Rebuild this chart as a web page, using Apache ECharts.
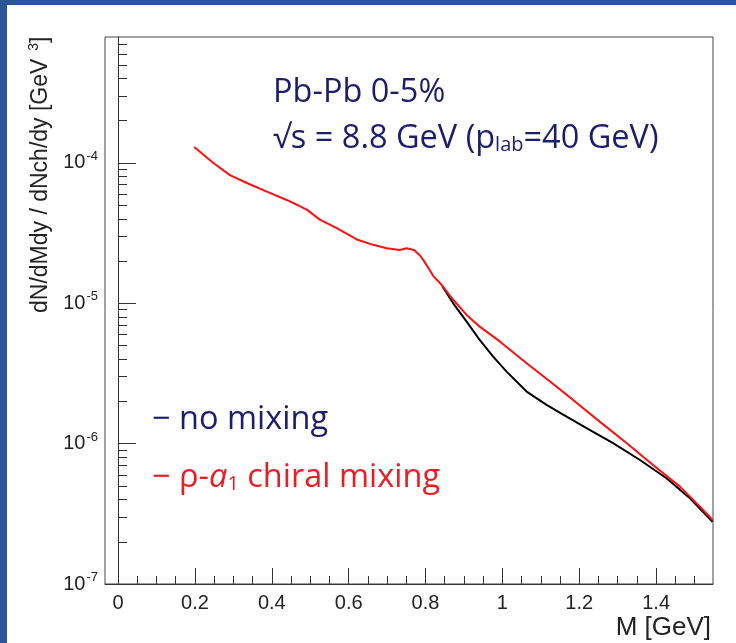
<!DOCTYPE html>
<html>
<head>
<meta charset="utf-8">
<script src="https://cdn.jsdelivr.net/npm/echarts@6/dist/echarts.min.js"></script>
<style>
  html, body { margin: 0; padding: 0; background: #ffffff; }
  #chart { width: 736px; height: 643px; }
</style>
</head>
<body>
<div id="chart"></div>
<script>
// Invariant mass M [GeV] and yield dN/dMdy / dNch/dy for the rho-a1 chiral mixing case
const massMixing = [0.198, 0.248, 0.291, 0.335, 0.387, 0.439, 0.491, 0.525, 0.569, 0.621,
  0.664, 0.699, 0.733, 0.751, 0.770, 0.785, 0.794, 0.820, 0.842, 0.872, 0.907, 0.941,
  0.994, 1.063, 1.124, 1.184, 1.254, 1.323, 1.392, 1.462, 1.514, 1.547];
const yieldMixing = [1.30e-4, 1.00e-4, 8.2e-5, 7.2e-5, 6.25e-5, 5.45e-5, 4.65e-5, 3.95e-5, 3.43e-5, 2.85e-5,
  2.61e-5, 2.47e-5, 2.40e-5, 2.47e-5, 2.40e-5, 2.2e-5, 2.04e-5, 1.57e-5, 1.35e-5, 1.06e-5, 8.27e-6, 6.82e-6,
  5.33e-6, 3.74e-6, 2.77e-6, 2.05e-6, 1.43e-6, 1.01e-6, 7.05e-7, 4.94e-7, 3.56e-7, 2.86e-7];

// Same observable without mixing (only differs above the rho/omega region)
const massNoMixing = [0.844, 0.872, 0.907, 0.941, 0.976, 1.011, 1.063, 1.115, 1.167, 1.219,
  1.288, 1.358, 1.427, 1.488, 1.547];
const yieldNoMixing = [1.32e-5, 1.00e-5, 7.41e-6, 5.48e-6, 4.17e-6, 3.26e-6, 2.35e-6, 1.89e-6, 1.56e-6, 1.29e-6,
  1.01e-6, 7.65e-7, 5.67e-7, 4.08e-7, 2.78e-7];

// Axis ranges and tick positions
const xRange = [-0.034, 1.548];
const yRange = [1e-7, 7.9e-4];
const xMajorTicks = [0, 0.2, 0.4, 0.6, 0.8, 1.0, 1.2, 1.4];
const xMinorTicks = [0.05, 0.1, 0.15, 0.25, 0.3, 0.35, 0.45, 0.5, 0.55, 0.65, 0.7, 0.75,
  0.85, 0.9, 0.95, 1.05, 1.1, 1.15, 1.25, 1.3, 1.35, 1.45, 1.5];
const yDecades = [-7, -6, -5, -4];
const yMajorTicks = yDecades.map(e => Math.pow(10, e));
const yMinorTicks = [];
yDecades.forEach(e => {
  for (let k = 2; k <= 9; k++) {
    const v = k * Math.pow(10, e);
    if (v < yRange[1]) yMinorTicks.push(v);
  }
});

const pairs = (xs, ys) => xs.map((x, i) => [x, ys[i]]);

const NAVY = '#1d1d6e';
const RED_TEXT = '#ec1c24';
const AXIS_FONT = 'Liberation Sans';
const NOTE_FONT = 'Open Sans';
const NOTE_SIZE = 32.5;

const chart = echarts.init(document.getElementById('chart'));

const baseX = {
  type: 'value', min: xRange[0], max: xRange[1], position: 'bottom',
  splitLine: { show: false },
  axisLine: { show: true, onZero: false, lineStyle: { color: '#333', width: 1 } }
};
const baseY = {
  type: 'log', logBase: 10, min: yRange[0], max: yRange[1], position: 'left',
  splitLine: { show: false },
  axisLine: { show: true, lineStyle: { color: '#333', width: 1 } }
};

chart.setOption({
  animation: false,
  backgroundColor: '#ffffff',
  grid: {
    left: 105, top: 37, width: 608, height: 547,
    show: true, borderColor: '#444', borderWidth: 1, backgroundColor: 'transparent'
  },
  xAxis: [
    Object.assign({}, baseX, {
      axisTick: { show: true, inside: true, length: 16, customValues: xMajorTicks, lineStyle: { color: '#333' } },
      axisLabel: {
        show: true, customValues: xMajorTicks, margin: 9,
        fontFamily: AXIS_FONT, fontSize: 20, color: '#222',
        formatter: v => String(+v.toFixed(1))
      }
    }),
    Object.assign({}, baseX, {
      axisLine: { show: false },
      axisTick: { show: true, inside: true, length: 8, customValues: xMinorTicks, lineStyle: { color: '#333' } },
      axisLabel: { show: false }
    })
  ],
  yAxis: [
    Object.assign({}, baseY, {
      axisTick: { show: true, inside: true, length: 18, customValues: yMajorTicks, lineStyle: { color: '#333' } },
      axisLabel: {
        show: true, customValues: yMajorTicks, margin: 7,
        formatter: v => '{b|10}{s|' + Math.round(Math.log10(v)) + '}',
        rich: {
          b: { fontFamily: AXIS_FONT, fontSize: 20, color: '#222' },
          s: { fontFamily: AXIS_FONT, fontSize: 13, color: '#222', padding: [0, 0, 13, 1] }
        }
      }
    }),
    Object.assign({}, baseY, {
      axisLine: { show: false },
      axisTick: { show: true, inside: true, length: 9, customValues: yMinorTicks, lineStyle: { color: '#333' } },
      axisLabel: { show: false }
    })
  ],
  series: [
    {
      name: 'no mixing', type: 'line', xAxisIndex: 0, yAxisIndex: 0,
      data: pairs(massNoMixing, yieldNoMixing),
      showSymbol: false, symbol: 'none', clip: true,
      lineStyle: { color: '#000000', width: 2 }
    },
    {
      name: 'rho-a1 chiral mixing', type: 'line', xAxisIndex: 0, yAxisIndex: 0,
      data: pairs(massMixing, yieldMixing),
      showSymbol: false, symbol: 'none', clip: true,
      lineStyle: { color: '#ff1010', width: 2 }
    }
  ],
  graphic: [
    // frame of the slide
    { type: 'rect', left: 0, top: 0, shape: { width: 7, height: 643 }, style: { fill: '#2d5596' }, silent: true },
    { type: 'rect', left: 0, top: 0, shape: { width: 736, height: 5 }, style: { fill: '#2d5596' }, silent: true },
    // y axis title
    {
      type: 'text', x: 41, y: 313, rotation: Math.PI / 2,
      style: {
        text: '{t|dN/dMdy / dNch/dy [GeV}{s|  3}{t|]}',
        align: 'left', verticalAlign: 'middle',
        rich: {
          t: { fontFamily: AXIS_FONT, fontSize: 23, fill: '#222' },
          s: { fontFamily: AXIS_FONT, fontSize: 14, fill: '#222', padding: [0, 0, 14, 0] }
        }
      }
    },
    // x axis title
    {
      type: 'text', x: 711, y: 628,
      style: { text: 'M [GeV]', align: 'right', verticalAlign: 'middle', fontFamily: AXIS_FONT, fontSize: 26, fill: '#222' }
    },
    // collision system
    {
      type: 'text', x: 273, y: 93,
      style: { text: 'Pb-Pb 0-5%', align: 'left', verticalAlign: 'middle', fontFamily: NOTE_FONT, fontSize: NOTE_SIZE, fill: NAVY }
    },
    {
      type: 'text', x: 273, y: 139,
      style: {
        text: '{m|√s = 8.8 GeV (p}{sub|lab}{m|=40 GeV)}',
        align: 'left', verticalAlign: 'middle',
        rich: {
          m: { fontFamily: NOTE_FONT, fontSize: NOTE_SIZE, fill: NAVY },
          sub: { fontFamily: NOTE_FONT, fontSize: 20, fill: NAVY, padding: [12, 0, 0, 0] }
        }
      }
    },
    // legend
    {
      type: 'text', x: 152, y: 420,
      style: { text: '− no mixing', align: 'left', verticalAlign: 'middle', fontFamily: NOTE_FONT, fontSize: NOTE_SIZE, fill: NAVY }
    },
    {
      type: 'text', x: 152, y: 478,
      style: {
        text: '{m|− ρ-}{i|a}{sub|1}{m| chiral mixing}',
        align: 'left', verticalAlign: 'middle',
        rich: {
          m: { fontFamily: NOTE_FONT, fontSize: NOTE_SIZE, fill: RED_TEXT },
          i: { fontFamily: NOTE_FONT, fontSize: NOTE_SIZE, fontStyle: 'italic', fill: RED_TEXT },
          sub: { fontFamily: NOTE_FONT, fontSize: 20, fill: RED_TEXT, padding: [12, 0, 0, 0] }
        }
      }
    }
  ]
});
</script>
</body>
</html>
